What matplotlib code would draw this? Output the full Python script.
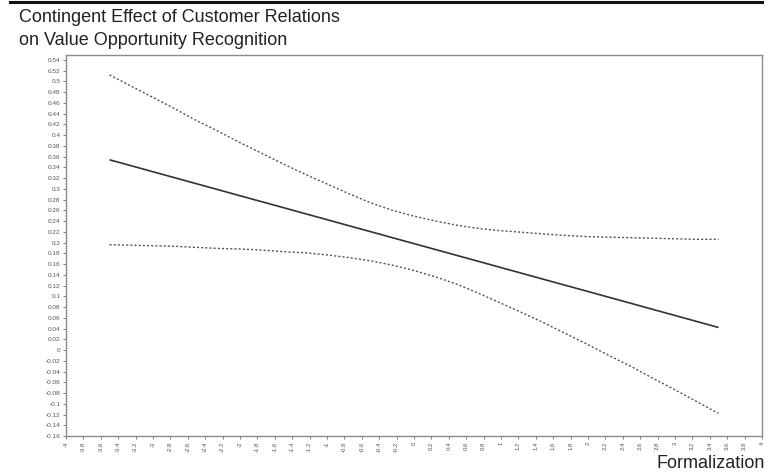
import matplotlib
matplotlib.use("Agg")
import matplotlib.pyplot as plt
import numpy as np
from matplotlib.lines import Line2D

# ---- data ----
x_vals = [-3.5, -3.25, -3.0, -2.75, -2.5, -2.25, -2.0, -1.75, -1.5, -1.25, -1.0, -0.75, -0.5, -0.25,
          0.0, 0.25, 0.5, 0.75, 1.0, 1.25, 1.5, 1.75, 2.0, 2.25, 2.5, 2.75, 3.0, 3.25, 3.5]
effect = [0.3540, 0.3429, 0.3317, 0.3206, 0.3094, 0.2983, 0.2871, 0.2760, 0.2649, 0.2537, 0.2426,
          0.2314, 0.2203, 0.2091, 0.1980, 0.1869, 0.1757, 0.1646, 0.1534, 0.1423, 0.1311, 0.1200,
          0.1089, 0.0977, 0.0866, 0.0754, 0.0643, 0.0531, 0.0420]
upper = [0.512, 0.491, 0.470, 0.449, 0.427, 0.407, 0.386, 0.366, 0.346, 0.327, 0.309, 0.291, 0.274, 0.260,
         0.249, 0.240, 0.232, 0.226, 0.222, 0.219, 0.216, 0.213, 0.211, 0.210, 0.209, 0.208, 0.207, 0.206, 0.206]
lower = [0.196, 0.195, 0.194, 0.193, 0.191, 0.189, 0.188, 0.186, 0.183, 0.181, 0.177, 0.172, 0.166, 0.158,
         0.148, 0.136, 0.122, 0.105, 0.087, 0.069, 0.050, 0.030, 0.010, -0.011, -0.031, -0.053, -0.074, -0.096, -0.118]

title_lines = ["Contingent Effect of Customer Relations", "on Value Opportunity Recognition"]
x_label = "Formalization"

x_ticks = [round(v, 1) for v in np.arange(-4.0, 4.01, 0.2)]
y_ticks = [round(v, 2) for v in np.arange(-0.16, 0.541, 0.02)]


def fmt(v):
    s = ("%.2f" % v).rstrip("0").rstrip(".")
    if s in ("-0", "-0.0"):
        s = "0"
    return s


plt.rcParams["font.family"] = ["Liberation Sans", "DejaVu Sans"]

fig = plt.figure(figsize=(7.72, 4.76), dpi=100)
ax = fig.add_axes([66 / 772, 40 / 476, (762 - 66) / 772, (436 - 55) / 476])

ax.plot(x_vals, effect, color="#333333", lw=1.2, solid_capstyle="butt")
ax.plot(x_vals, upper, color="#555555", lw=1.0, ls=(0, (1.5, 1.5)))
ax.plot(x_vals, lower, color="#555555", lw=1.0, ls=(0, (1.5, 1.5)))

ax.set_xlim(-4.0, 4.0)
ax.set_ylim(-0.16, 0.549)

ax.set_xticks(x_ticks)
ax.set_xticklabels([fmt(v) for v in x_ticks], rotation=90, fontsize=4.3, color="#555555")
ax.set_yticks(y_ticks)
ax.set_yticklabels([fmt(v) for v in y_ticks], fontsize=4.6, color="#555555")
ax.tick_params(axis="both", direction="out", length=2.5, width=0.6, color="#666666", pad=1.5)

for sp in ax.spines.values():
    sp.set_color("#8a8a8a")
    sp.set_linewidth(1.0)

# title (two lines, left aligned)
fig.text(19 / 772, 1 - 22 / 476, title_lines[0], fontsize=13, color="#222222",
         ha="left", va="baseline")
fig.text(19 / 772, 1 - 45 / 476, title_lines[1], fontsize=13, color="#222222",
         ha="left", va="baseline")

# x-axis label at bottom right
fig.text(765 / 772, 1 - 468 / 476, x_label, fontsize=13, color="#222222",
         ha="right", va="baseline")

# top rule
fig.add_artist(Line2D([10 / 772, 762 / 772], [1 - 1.5 / 476, 1 - 1.5 / 476],
                      transform=fig.transFigure, color="#111111", lw=2.2))

fig.savefig("out.png", dpi=100)
